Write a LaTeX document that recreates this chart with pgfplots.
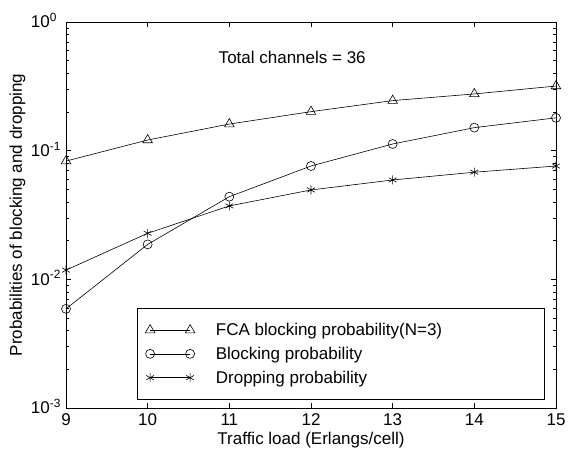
\documentclass[border=0pt]{standalone}
\usepackage{fontspec}
\setmainfont{Liberation Sans}
\usepackage{pgfplots}
\pgfplotsset{compat=1.18}

\newcommand{\tenpow}[1]{10\rlap{\raisebox{0pt}[0pt][0pt]{\textsuperscript{#1}}}}

\begin{document}
\begin{tikzpicture}
\begin{axis}[
  scale only axis,
  width=490pt, height=386pt,
  font=\fontsize{17}{20}\selectfont,
  xmin=9, xmax=15,
  xtick={9,10,...,15},
  ymode=log, ymin=1e-3, ymax=1,
  ytick={1e-3,1e-2,1e-1,1},
  yticklabels={\tenpow{-3},\tenpow{-2},\tenpow{-1},\tenpow{0}},
  minor ytick={2e-3,3e-3,4e-3,5e-3,6e-3,7e-3,8e-3,9e-3,
               2e-2,3e-2,4e-2,5e-2,6e-2,7e-2,8e-2,9e-2,
               2e-1,3e-1,4e-1,5e-1,6e-1,7e-1,8e-1,9e-1},
  /pgf/number format/assume math mode=true,
  tick align=inside,
  major tick length=5pt, minor tick length=3pt,
  every tick/.style={black, line width=0.6pt},
  axis line style={line width=0.8pt},
  yticklabel style={inner xsep=0pt, xshift=-16pt},
  xticklabel style={yshift=-2pt},
  xlabel={Traffic load (Erlangs/cell)},
  ylabel={Probabilities of blocking and dropping},
  ylabel style={yshift=2pt},
  clip=false,
  every axis plot/.append style={black, line width=0.6pt},
  every mark/.append style={solid, fill=none},
  legend style={at={(0.145,0.021)}, anchor=south west, draw=black,
                line width=0.6pt, inner xsep=8pt, inner ysep=13pt,
                row sep=6pt, column sep=19pt, cells={anchor=west},
                font=\fontsize{17}{20}\selectfont},
  legend image code/.code={\draw[mark repeat=2, mark phase=1]
      plot coordinates {(0pt,0pt) (20pt,0pt) (40pt,0pt)};},
]
\coordinate (sw) at (rel axis cs:0,0);
\coordinate (ne) at (rel axis cs:1,1);

\addplot[mark=triangle, mark size=5.5pt] coordinates {
  (9,0.083) (10,0.121) (11,0.161) (12,0.201) (13,0.245) (14,0.276) (15,0.318)
};
\addlegendentry{\makebox[318pt][l]{FCA blocking probability(N=3)}}

\addplot[mark=o, mark size=4.5pt] coordinates {
  (9,0.0059) (10,0.0187) (11,0.0439) (12,0.076) (13,0.1127) (14,0.151) (15,0.180)
};
\addlegendentry{Blocking probability}

\addplot[mark=asterisk, mark size=4.5pt] coordinates {
  (9,0.0118) (10,0.0228) (11,0.0372) (12,0.0495) (13,0.0592) (14,0.068) (15,0.076)
};
\addlegendentry{Dropping probability}

\node at (axis cs:11.77,0.535) {Total channels = 36};
\end{axis}
\path ([xshift=-66pt,yshift=-44pt]sw) rectangle ([xshift=16pt,yshift=22pt]ne);
\end{tikzpicture}
\end{document}
